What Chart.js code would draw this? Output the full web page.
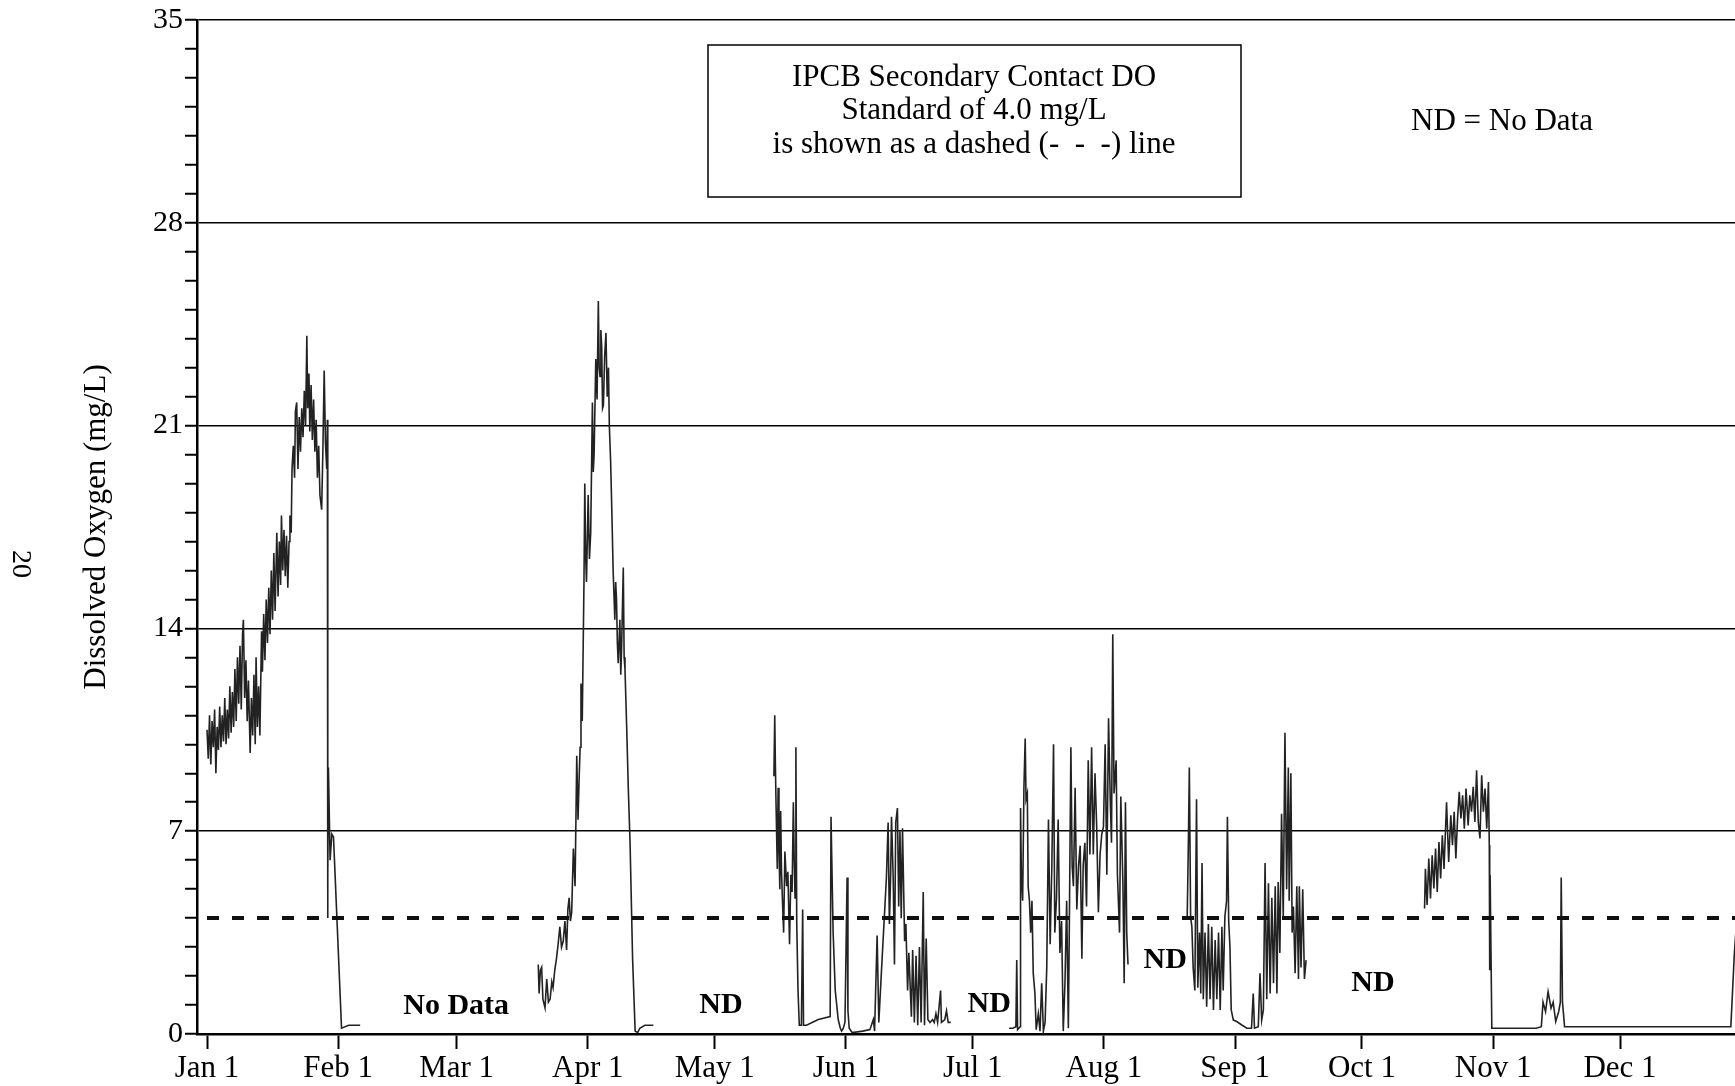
<!DOCTYPE html>
<html>
<head>
<meta charset="utf-8">
<script src="https://cdn.jsdelivr.net/npm/chart.js@4.4.0/dist/chart.umd.min.js"></script>
<style>
html,body{margin:0;padding:0;background:#fff;}
#wrap{position:relative;width:1735px;height:1086px;}
canvas{display:block;}
</style>
</head>
<body>
<div id="wrap"><canvas id="c" width="1735" height="1086"></canvas></div>
<script>
// ---- Data (x = day of year, Jan 1 = 0; y = dissolved oxygen, mg/L) ----
const monthStarts = [0,31,59,90,120,151,181,212,243,273,304,334];
const monthLabels = ['Jan 1','Feb 1','Mar 1','Apr 1','May 1','Jun 1','Jul 1','Aug 1','Sep 1','Oct 1','Nov 1','Dec 1'];
const yLabeled = [0,7,14,21,28,35];
const standardDO = 4.0;

const segJan = [[0,10.5],[0.3,9.5],[0.6,11.0],[0.9,9.3],[1.2,10.8],[1.5,9.9],[1.8,11.2],[2.1,9.0],[2.4,10.6],[2.7,9.8],[3.0,11.3],[3.3,9.9],[3.6,11.0],[3.9,10.1],[4.2,11.6],[4.5,10.0],[4.8,11.2],[5.1,10.2],[5.4,12.0],[5.7,10.4],[6.0,11.8],[6.3,10.6],[6.6,12.6],[6.9,10.8],[7.2,13.0],[7.5,11.4],[7.8,13.4],[8.1,11.2],[8.4,13.8],[8.6,14.3],[8.9,11.6],[9.2,12.9],[9.5,10.8],[9.8,12.2],[10.2,9.7],[10.5,11.6],[10.8,10.3],[11.1,12.4],[11.4,10.0],[11.6,13.0],[11.9,10.6],[12.2,12.0],[12.5,10.3],[12.9,13.9],[13.1,12.5],[13.4,14.5],[13.7,12.9],[14.0,15.0],[14.3,13.5],[14.6,15.4],[14.9,13.8],[15.2,16.0],[15.5,14.3],[15.8,16.6],[16.1,14.6],[16.5,17.3],[16.8,15.1],[17.1,17.0],[17.4,15.5],[17.6,17.9],[17.9,16.0],[18.2,17.4],[18.5,15.8],[18.8,17.2],[19.1,15.4],[19.4,17.0],[19.6,17.9],[19.9,17.3],[20.1,19.5],[20.4,20.3],[20.7,19.2],[20.9,21.5],[21.2,21.8],[21.5,19.5],[21.8,21.3],[22.1,20.1],[22.4,21.6],[22.7,20.6],[23.0,22.2],[23.3,21.0],[23.6,24.1],[23.8,21.6],[24.1,22.8],[24.3,20.8],[24.6,22.4],[24.9,20.5],[25.2,21.9],[25.5,20.1],[25.8,21.2],[26.1,19.2],[26.4,20.3],[26.7,18.6],[27.1,18.1],[27.4,20.2],[27.7,22.9],[28.0,20.4],[28.3,19.5],[28.45,21.2],[28.5,4.0],[28.6,5.5],[28.7,9.2],[28.9,7.6],[29.1,6.0],[29.5,6.9],[29.9,6.8],[31.8,0.2],[33.5,0.3],[36.2,0.3]];

const segApr = [[78.3,2.4],[78.5,1.4],[78.8,2.2],[79.1,2.3],[79.4,1.2],[79.9,0.9],[80.3,1.9],[80.7,1.1],[81.1,1.2],[81.5,1.8],[81.8,1.6],[82.2,2.2],[82.6,2.6],[83.0,3.1],[83.4,3.7],[83.8,3.0],[84.2,3.2],[84.6,3.9],[85.0,2.9],[85.3,4.3],[85.6,4.7],[85.9,3.9],[86.2,4.2],[86.6,6.4],[87.0,5.1],[87.4,9.6],[87.7,7.4],[88.0,9.0],[88.2,9.9],[88.4,12.1],[88.7,10.8],[89.1,15.5],[89.3,19.0],[89.5,16.5],[89.7,15.6],[90.1,18.6],[90.4,16.4],[90.7,17.3],[91.1,21.8],[91.3,19.4],[91.5,20.0],[91.9,23.3],[92.2,21.9],[92.5,25.3],[92.7,23.0],[92.9,22.7],[93.1,24.3],[93.3,23.7],[93.5,21.6],[93.7,21.7],[94.0,23.4],[94.3,24.2],[94.6,22.0],[94.9,23.0],[95.1,21.0],[95.4,19.8],[95.7,18.0],[96.0,16.0],[96.4,14.3],[96.6,15.6],[96.8,15.0],[97.0,13.5],[97.2,12.8],[97.6,14.3],[97.8,12.4],[98.0,13.3],[98.4,16.1],[98.6,13.0],[98.8,12.6],[99.2,10.6],[99.6,8.4],[100.0,6.6],[100.6,2.6],[101.2,0.1],[101.8,0.05],[102.3,0.2],[103.5,0.3],[105.5,0.3]];

const segJun = [[134.0,8.9],[134.2,11.0],[134.35,9.3],[134.5,8.0],[134.8,5.7],[135.0,8.5],[135.2,6.5],[135.4,5.0],[135.6,7.7],[135.8,5.6],[136.0,4.7],[136.3,3.5],[136.6,6.3],[137.0,5.1],[137.3,5.6],[137.7,3.1],[138.0,5.5],[138.3,4.9],[138.6,8.0],[138.8,6.0],[139.0,4.7],[139.2,9.9],[139.4,3.8],[139.7,1.5],[140.0,0.3],[140.5,0.3],[140.8,4.3],[141.0,0.3],[141.7,0.3],[144.5,0.5],[147.3,0.6],[147.5,7.5],[148.0,3.5],[148.5,1.5],[149.2,0.5],[149.7,0.2],[150.0,0.1],[150.4,0.2],[150.8,0.4],[151.3,5.4],[151.5,0.8],[151.8,0.2],[152.5,0.05],[155.0,0.1],[156.7,0.15],[157.5,0.5],[157.8,0.1],[158.4,3.4],[158.8,0.4],[159.4,2.1],[159.8,3.2],[160.2,4.3],[160.6,5.4],[161.0,7.3],[161.3,3.8],[161.6,5.5],[161.8,7.5],[162.2,5.4],[162.5,2.4],[162.8,7.3],[163.2,7.8],[163.5,4.4],[163.8,7.0],[164.1,4.0],[164.4,7.1],[164.9,3.2],[165.2,3.8],[165.6,1.5],[165.9,2.8],[166.5,0.6],[166.8,2.9],[167.2,0.4],[167.6,2.7],[168.0,0.3],[168.4,3.0],[168.8,0.4],[169.3,4.9],[169.6,0.3],[170.0,3.3],[170.4,0.5],[170.9,0.4],[171.5,0.5],[171.9,0.4],[172.3,0.7],[172.7,0.4],[173.4,1.5],[173.6,0.4],[174.4,0.5],[174.8,0.8],[175.2,0.4],[175.8,0.4]];

const segAug = [[189.6,0.2],[190.5,0.2],[191.2,0.25],[191.4,2.55],[191.6,0.15],[192.2,0.25],[192.3,7.8],[192.5,5.5],[192.8,4.6],[193.1,8.5],[193.4,10.2],[193.6,8.1],[193.9,8.3],[194.1,5.1],[194.4,4.6],[194.7,3.5],[195.0,4.6],[195.3,2.1],[195.7,1.4],[196.0,0.15],[196.5,0.7],[196.9,0.1],[197.3,1.75],[197.7,0.1],[198.1,0.4],[198.5,2.3],[198.9,7.4],[199.3,3.1],[199.7,5.8],[200.1,10.0],[200.4,3.5],[200.8,4.7],[201.2,7.4],[201.6,2.8],[202.0,3.9],[202.4,0.1],[202.8,1.75],[203.2,4.6],[203.6,0.2],[203.8,3.2],[204.2,9.9],[204.5,5.8],[204.8,5.1],[205.2,8.5],[205.6,4.3],[206.0,5.8],[206.4,6.5],[206.8,2.6],[207.1,5.8],[207.5,6.6],[207.9,4.4],[208.3,9.45],[208.7,6.2],[209.1,9.9],[209.5,6.2],[209.9,9.0],[210.3,7.15],[210.7,4.2],[211.1,6.2],[211.5,6.9],[211.9,7.15],[212.3,10.0],[212.7,5.5],[213.1,10.9],[213.5,8.1],[213.8,6.6],[214.1,13.8],[214.4,8.3],[214.9,9.45],[215.2,5.5],[215.7,3.5],[216.0,8.2],[216.5,5.2],[216.8,1.75],[217.1,8.0],[217.4,3.5],[217.7,2.4]];

const segSep = [[231.7,4.05],[232.0,6.9],[232.2,9.2],[232.5,4.05],[232.8,3.7],[233.1,2.3],[233.5,1.5],[233.9,8.1],[234.2,1.6],[234.6,3.5],[234.9,1.4],[235.2,5.9],[235.5,1.2],[235.9,3.5],[236.3,0.94],[236.7,3.8],[237.1,1.2],[237.5,3.7],[237.9,0.83],[238.3,3.24],[238.7,1.2],[239.1,3.5],[239.5,0.83],[239.9,3.7],[240.2,1.5],[240.6,4.05],[241.0,4.6],[241.2,7.5],[241.5,3.9],[241.8,3.0],[242.1,0.83],[242.6,0.48],[243.4,0.43],[244.6,0.31],[245.8,0.2],[246.9,0.2],[247.3,1.4],[247.6,0.2],[248.5,0.25],[248.9,2.1],[249.3,0.48],[249.7,0.83],[250.1,5.9],[250.5,1.2],[250.9,5.2],[251.3,1.4],[251.7,4.7],[252.1,1.75],[252.5,5.1],[252.9,1.4],[253.2,5.25],[253.6,2.8],[254.0,7.6],[254.4,4.05],[254.8,10.4],[255.2,5.0],[255.6,9.2],[255.8,4.6],[256.2,9.0],[256.5,3.5],[256.8,4.4],[257.2,2.1],[257.6,5.1],[258.0,1.9],[258.2,5.1],[258.6,2.3],[259.0,5.0],[259.4,1.9],[259.8,2.55]];

const segNov = [[287.8,4.33],[288.0,5.7],[288.4,4.45],[288.8,6.06],[289.2,4.68],[289.6,6.17],[290.0,5.02],[290.4,6.4],[290.8,4.9],[291.2,6.63],[291.6,5.37],[292.0,6.86],[292.4,5.7],[293.0,8.0],[293.5,5.94],[294.0,7.55],[294.4,6.52],[294.8,7.67],[295.2,6.06],[295.6,7.44],[296.0,8.36],[296.4,7.44],[296.8,8.24],[297.2,7.09],[297.6,8.47],[298.1,7.2],[298.5,8.24],[298.9,7.67],[299.3,8.53],[299.7,7.32],[300.1,9.1],[300.5,7.32],[300.9,6.75],[301.3,8.93],[301.7,7.67],[302.1,8.47],[302.5,7.09],[302.9,8.7],[303.1,6.52],[303.2,2.2],[303.3,5.48],[303.7,0.2],[310,0.2],[314.2,0.2],[315.4,0.25],[315.8,1.1],[316.4,0.77],[317.0,1.46],[317.7,0.89],[318.2,1.1],[318.8,0.43],[319.5,0.77],[319.9,1.1],[320.1,5.4],[320.4,1.1],[320.9,0.25],[340,0.25],[360.2,0.25],[361.0,2.7],[361.6,4.0]];

const ndText = ['No Data','ND','ND','ND','ND'];
const ndDay  = [58.9,121.5,184.9,226.5,275.6];
const ndDO   = [0.97,1.0,1.03,2.55,1.76];

const boxLines = ['IPCB Secondary Contact DO','Standard of 4.0 mg/L','is shown as a dashed (-\u2002-\u2002-) line'];
const noteText = 'ND = No Data';
const yTitle = 'Dissolved Oxygen (mg/L)';
const pageNumber = '20';

// ---- Chart ----
const FONT = '"Liberation Serif", "Times New Roman", serif';
const toXY = arr => arr.map(p => ({x: p[0], y: p[1]}));
const lineStyle = {borderColor:'#222', borderWidth:1.6, pointRadius:0, tension:0, fill:false, spanGaps:false};
const segments = [segJan, segApr, segJun, segAug, segSep, segNov];

const annotPlugin = {
  id: 'annot',
  afterDraw(chart) {
    const ctx = chart.ctx, xs = chart.scales.x, ys = chart.scales.y;
    ctx.save();
    ctx.fillStyle = '#000';
    ctx.textAlign = 'center';
    ctx.textBaseline = 'middle';
    ctx.font = 'bold 30px ' + FONT;
    ndText.forEach((t, i) => ctx.fillText(t, xs.getPixelForValue(ndDay[i]), ys.getPixelForValue(ndDO[i])));
    // Note box
    ctx.lineWidth = 1.5;
    ctx.strokeStyle = '#000';
    ctx.strokeRect(708, 45, 533, 152);
    ctx.font = '31px ' + FONT;
    const lineY = [78, 111, 145];
    boxLines.forEach((t, i) => ctx.fillText(t, 974, lineY[i]));
    ctx.fillText(noteText, 1502, 122);
    // page number
    ctx.translate(20, 564);
    ctx.rotate(Math.PI / 2);
    ctx.font = '28px ' + FONT;
    ctx.fillText(pageNumber, 0, 0);
    ctx.restore();
  }
};

const datasets = [
  {data: [{x: 0, y: standardDO}, {x: 361.6, y: standardDO}], borderColor:'#111', borderWidth:4, borderDash:[12,13], pointRadius:0, fill:false}
].concat(segments.map(s => Object.assign({data: toXY(s)}, lineStyle)));

new Chart(document.getElementById('c'), {
  type: 'line',
  data: {datasets},
  plugins: [annotPlugin],
  options: {
    responsive: false,
    animation: false,
    devicePixelRatio: 1,
    events: [],
    layout: {padding: {top: 20, right: 0, bottom: 0, left: 0}},
    plugins: {legend: {display: false}, tooltip: {enabled: false}},
    scales: {
      x: {
        type: 'linear',
        min: -2.364,
        max: 361.18,
        afterBuildTicks: s => { s.ticks = monthStarts.map(v => ({value: v})); },
        afterFit: s => { s.height = 52; },
        ticks: {
          callback: (v, i) => monthLabels[i],
          autoSkip: false, maxRotation: 0, minRotation: 0,
          font: {family: FONT, size: 31}, color: '#000', padding: 1
        },
        grid: {drawOnChartArea: false, drawTicks: true, tickLength: 15, tickWidth: 2, tickColor: '#000'},
        border: {display: true, color: '#000', width: 2.5}
      },
      y: {
        type: 'linear',
        min: 0,
        max: 35,
        afterFit: s => { s.width = 197; },
        ticks: {
          stepSize: 1, maxTicksLimit: 40, autoSkip: false,
          callback: v => yLabeled.includes(v) ? String(v) : '',
          font: {family: FONT, size: 30}, color: '#000', padding: 2
        },
        grid: {
          color: c => (c.tick && yLabeled.includes(c.tick.value)) ? '#000' : 'rgba(0,0,0,0)',
          lineWidth: 1.5, drawTicks: true, tickLength: 12, tickWidth: 2, tickColor: '#000'
        },
        border: {display: true, color: '#000', width: 2.5},
        title: {display: true, text: yTitle, font: {family: FONT, size: 31}, color: '#000', padding: {top: 78, bottom: 0}}
      }
    }
  }
});
</script>
</body>
</html>
